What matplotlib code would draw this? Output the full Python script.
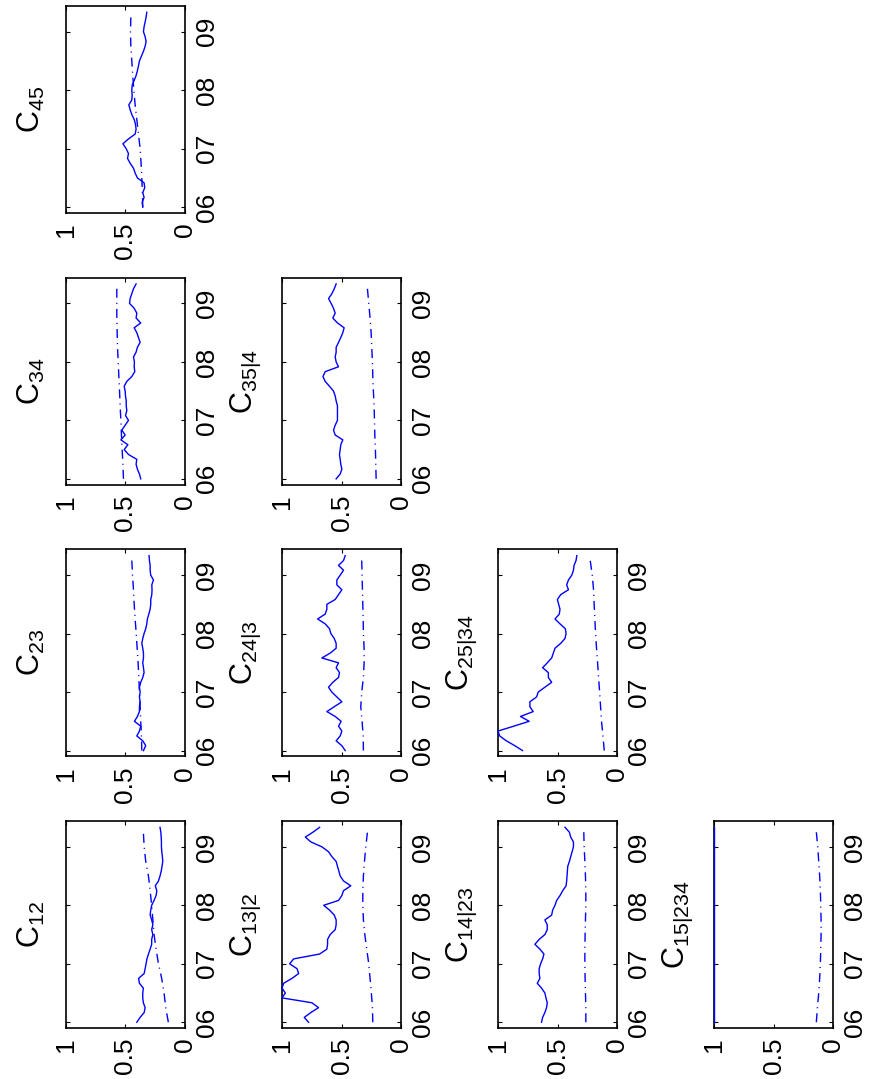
import numpy as np
import matplotlib
matplotlib.use('Agg')
from matplotlib import pyplot as plt

plt.rcParams['font.family'] = ['Liberation Sans', 'DejaVu Sans']
plt.rcParams['mathtext.fontset'] = 'custom'
plt.rcParams['mathtext.rm'] = 'Liberation Sans'
plt.rcParams['mathtext.it'] = 'Liberation Sans'
plt.rcParams['lines.scale_dashes'] = False

# monthly estimates, Jan 2006 .. May 2009
months = np.arange(41)
t = 2006 + months / 12.
t_fit = t[::3]
year_ticks = [2006, 2007, 2008, 2009]
year_labels = ['06', '07', '08', '09']

# tree 1
c12 = [0.405, 0.377, 0.343, 0.335, 0.35, 0.355, 0.355, 0.35, 0.383, 0.39, 0.343, 0.335, 0.327, 0.32,
       0.307, 0.293, 0.28, 0.28, 0.27, 0.28, 0.27, 0.28, 0.293, 0.288, 0.28, 0.26, 0.243, 0.237, 0.25,
       0.223, 0.21, 0.2, 0.193, 0.187, 0.19, 0.195, 0.198, 0.198, 0.2, 0.203, 0.21]
c12_fit = [0.14, 0.162, 0.176, 0.196, 0.223, 0.243, 0.26, 0.27, 0.28, 0.293, 0.307, 0.33, 0.343, 0.35]
c23 = [0.349, 0.33, 0.355, 0.405, 0.383, 0.372, 0.425, 0.4, 0.383, 0.383, 0.377, 0.383, 0.377, 0.383,
       0.372, 0.355, 0.344, 0.349, 0.355, 0.349, 0.349, 0.355, 0.363, 0.355, 0.344, 0.33, 0.321, 0.316,
       0.304, 0.293, 0.288, 0.288, 0.279, 0.277, 0.279, 0.265, 0.288, 0.293, 0.293, 0.299, 0.302]
c23_fit = [0.363, 0.366, 0.372, 0.377, 0.383, 0.388, 0.394, 0.402, 0.41, 0.419, 0.427, 0.433, 0.441, 0.447]
c34 = [0.372, 0.383, 0.4, 0.411, 0.405, 0.475, 0.511, 0.48, 0.539, 0.503, 0.531, 0.503, 0.475, 0.5,
       0.489, 0.494, 0.494, 0.5, 0.503, 0.511, 0.489, 0.447, 0.422, 0.427, 0.425, 0.433, 0.411, 0.4,
       0.377, 0.391, 0.405, 0.427, 0.372, 0.411, 0.405, 0.427, 0.466, 0.461, 0.447, 0.433, 0.411]
c34_fit = [0.517, 0.522, 0.528, 0.534, 0.539, 0.545, 0.55, 0.556, 0.561, 0.567, 0.57, 0.573, 0.573, 0.573]
c45 = [0.355, 0.36, 0.344, 0.355, 0.338, 0.344, 0.4, 0.419, 0.433, 0.461, 0.483, 0.475, 0.494, 0.522,
       0.475, 0.419, 0.411, 0.416, 0.427, 0.447, 0.461, 0.472, 0.447, 0.444, 0.447, 0.444, 0.427, 0.411,
       0.4, 0.391, 0.383, 0.366, 0.349, 0.335, 0.327, 0.335, 0.349, 0.344, 0.335, 0.327, 0.321]
c45_fit = [0.355, 0.358, 0.363, 0.369, 0.377, 0.391, 0.405, 0.419, 0.43, 0.439, 0.447, 0.455, 0.458, 0.455]

# tree 2
c13_2 = [0.777, 0.813, 0.757, 0.693, 0.749, 1.0, 0.972, 1.0, 0.986, 0.916, 0.86, 0.874, 0.936, 0.902,
         0.684, 0.623, 0.617, 0.617, 0.595, 0.553, 0.545, 0.545, 0.561, 0.6, 0.65, 0.525, 0.497, 0.483,
         0.422, 0.483, 0.511, 0.522, 0.534, 0.545, 0.581, 0.609, 0.665, 0.757, 0.804, 0.74, 0.684]
c13_2_fit = [0.237, 0.24, 0.249, 0.26, 0.271, 0.288, 0.304, 0.316, 0.321, 0.321, 0.316, 0.307, 0.296, 0.282]
c24_3 = [0.469, 0.497, 0.545, 0.511, 0.497, 0.525, 0.503, 0.553, 0.623, 0.561, 0.497, 0.539, 0.581, 0.609,
         0.573, 0.525, 0.517, 0.545, 0.525, 0.665, 0.595, 0.545, 0.545, 0.561, 0.589, 0.601, 0.637, 0.701,
         0.637, 0.623, 0.623, 0.553, 0.525, 0.497, 0.539, 0.539, 0.511, 0.483, 0.525, 0.483, 0.469]
c24_3_fit = [0.316, 0.318, 0.327, 0.338, 0.33, 0.316, 0.31, 0.31, 0.316, 0.318, 0.321, 0.324, 0.327, 0.33]
c35_4 = [0.545, 0.511, 0.497, 0.506, 0.511, 0.517, 0.511, 0.506, 0.489, 0.553, 0.567, 0.553, 0.534, 0.534,
         0.534, 0.534, 0.545, 0.553, 0.567, 0.601, 0.637, 0.656, 0.637, 0.525, 0.545, 0.553, 0.545, 0.545,
         0.525, 0.506, 0.489, 0.478, 0.534, 0.573, 0.553, 0.567, 0.587, 0.609, 0.581, 0.561, 0.545]
c35_4_fit = [0.209, 0.212, 0.215, 0.22, 0.223, 0.226, 0.232, 0.237, 0.24, 0.246, 0.251, 0.26, 0.271, 0.282]

# tree 3
c14_23 = [0.634, 0.625, 0.606, 0.592, 0.586, 0.597, 0.606, 0.634, 0.67, 0.648, 0.654, 0.654, 0.642, 0.625,
          0.614, 0.648, 0.69, 0.654, 0.606, 0.586, 0.586, 0.606, 0.549, 0.541, 0.521, 0.507, 0.479, 0.456,
          0.428, 0.423, 0.42, 0.417, 0.414, 0.4, 0.389, 0.377, 0.366, 0.366, 0.389, 0.4, 0.437]
c14_23_fit = [0.262, 0.262, 0.265, 0.268, 0.27, 0.27, 0.268, 0.265, 0.262, 0.262, 0.265, 0.27, 0.276, 0.279]
c25_34 = [0.794, 0.859, 0.93, 0.986, 1.0, 0.868, 0.738, 0.811, 0.704, 0.732, 0.732, 0.676, 0.662, 0.606,
          0.549, 0.577, 0.577, 0.625, 0.586, 0.549, 0.535, 0.521, 0.473, 0.437, 0.428, 0.434, 0.479, 0.521,
          0.485, 0.479, 0.49, 0.501, 0.473, 0.408, 0.423, 0.408, 0.38, 0.366, 0.361, 0.344, 0.338]
c25_34_fit = [0.107, 0.118, 0.13, 0.138, 0.146, 0.155, 0.163, 0.172, 0.18, 0.186, 0.192, 0.197, 0.208, 0.225]

# tree 4
c15_234 = [1.0] * 41
c15_234_fit = [0.14, 0.131, 0.12, 0.112, 0.106, 0.103, 0.1, 0.1, 0.103, 0.106, 0.112, 0.12, 0.128, 0.14]

# (tree, edge, label, estimate, fit)
panels = [
    (0, 0, '12', c12, c12_fit),
    (0, 1, '23', c23, c23_fit),
    (0, 2, '34', c34, c34_fit),
    (0, 3, '45', c45, c45_fit),
    (1, 0, '13|2', c13_2, c13_2_fit),
    (1, 1, '24|3', c24_3, c24_3_fit),
    (1, 2, '35|4', c35_4, c35_4_fit),
    (2, 0, '14|23', c14_23, c14_23_fit),
    (2, 1, '25|34', c25_34, c25_34_fit),
    (3, 0, '15|234', c15_234, c15_234_fit),
]

W, H = 873., 1079.
fig = plt.figure(figsize=(W / 100, H / 100), dpi=100)

# page is turned 90 deg: time runs upwards, value runs right-to-left
for tree, edge, lab, est, fit in panels:
    x0 = 66 + 216 * tree
    y0 = 6 + 271.7 * (3 - edge)
    ax = fig.add_axes([x0 / W, 1 - (y0 + 207) / H, 119 / W, 207 / H])
    ax.plot(est, t, color='#0000ff', lw=1.0, zorder=3, clip_on=False)
    ax.plot(fit, t_fit, color='#0000ff', lw=1.0, ls=(0, (6.5, 3.6, 0.8, 3.6)), zorder=3)
    ax.set_xlim(1, 0)
    ax.set_ylim(2005.9, 2009.44)
    ax.set_xticks([0, 0.5, 1])
    ax.set_xticklabels(['0', '0.5', '1'], rotation=90, fontsize=19)
    ax.set_yticks(year_ticks)
    ax.yaxis.tick_right()
    ax.set_yticklabels(year_labels, rotation=90, va='center', fontsize=19)
    ax.tick_params(direction='in', length=3, width=0.8, top=True, bottom=True,
                   left=True, right=True, labelleft=False, labelright=True, pad=7)
    for sp in ax.spines.values():
        sp.set_linewidth(1.2)
    ax.text(-0.16, 0.5, r'$\mathregular{C_{%s}}$' % lab, transform=ax.transAxes,
            rotation=90, ha='right', va='center', fontsize=22)

fig.savefig('out.png', dpi=100)
